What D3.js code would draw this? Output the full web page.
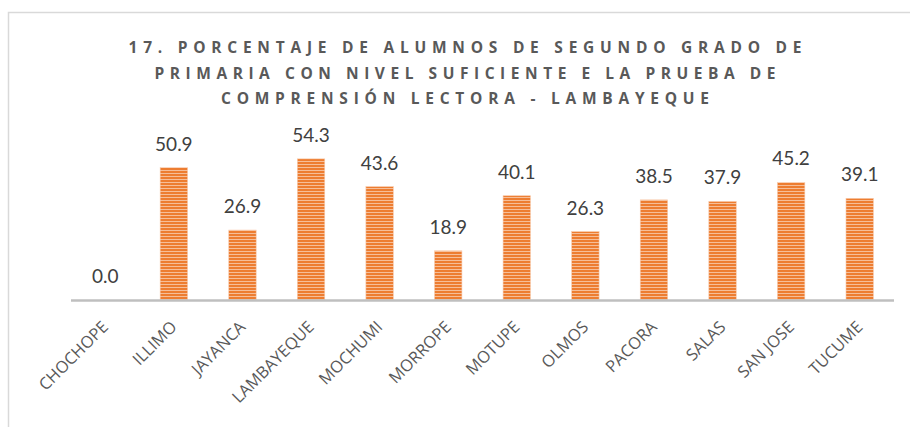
<!doctype html>
<html>
<head>
<meta charset="utf-8">
<title>Lambayeque :: Comprensión lectora</title>
<script src="https://cdnjs.cloudflare.com/ajax/libs/d3/7.8.5/d3.min.js"></script>
<style>
    body { margin: 0; background: #fff; }
    svg { display: block; }
</style>
</head>
<body>
<svg id="chart" width="910" height="427"></svg>
<script>
    /* DATA */
    var titleLines = [
        "17. PORCENTAJE DE ALUMNOS DE SEGUNDO GRADO DE",
        "PRIMARIA CON NIVEL SUFICIENTE E LA PRUEBA DE",
        "COMPRENSIÓN LECTORA - LAMBAYEQUE"
    ];
    var districts = ["CHOCHOPE", "ILLIMO", "JAYANCA", "LAMBAYEQUE", "MOCHUMI", "MORROPE",
                     "MOTUPE", "OLMOS", "PACORA", "SALAS", "SAN JOSE", "TUCUME"];
    var pct = [0.0, 50.9, 26.9, 54.3, 43.6, 18.9, 40.1, 26.3, 38.5, 37.9, 45.2, 39.1];

    var svg = d3.select("#chart");
    var defs = svg.append("defs");

    // stripe fill
    var pat = defs.append("pattern")
        .attr("id", "stripes")
        .attr("patternUnits", "userSpaceOnUse")
        .attr("width", 8).attr("height", 3);
    pat.append("rect").attr("width", 8).attr("height", 3).attr("fill", "#F6BE98");
    pat.append("rect").attr("width", 8).attr("height", 2).attr("fill", "#ED7D31");

    // chart frame (runs off the right and bottom edges)
    svg.append("rect")
        .attr("x", 8.5).attr("y", 12.5)
        .attr("width", 920).attr("height", 430)
        .attr("fill", "none")
        .attr("stroke", "#d9d9d9")
        .attr("stroke-width", 1.5);

    // title
    var titleWidths = [673, 621, 488];
    svg.append("g")
        .selectAll("text")
        .data(titleLines)
        .enter()
        .append("text")
        .attr("x", 465)
        .attr("y", (d, i) => 53 + i * 25.5)
        .attr("text-anchor", "middle")
        .attr("textLength", (d, i) => titleWidths[i])
        .attr("lengthAdjust", "spacing")
        .style("font-family", "'Open Sans', sans-serif")
        .style("font-weight", "bold")
        .style("font-size", "15.5px")
        .style("fill", "#595959")
        .text(d => d);

    var xScale = d3.scaleBand().domain(districts).range([71, 894])
        .paddingInner(0.6).paddingOuter(0.3);
    var yScale = d3.scaleLinear().domain([0, 60]).range([300, 144]);

    // bars
    svg.append("g")
        .selectAll("rect")
        .data(pct)
        .enter()
        .append("rect")
        .attr("x", (d, i) => xScale(districts[i]))
        .attr("y", d => yScale(d))
        .attr("width", xScale.bandwidth())
        .attr("height", d => yScale(0) - yScale(d))
        .attr("fill", "url(#stripes)")
        .attr("stroke", "#F8CBAD")
        .attr("stroke-width", 0.6);

    // value labels
    svg.append("g")
        .selectAll("text")
        .data(pct)
        .enter()
        .append("text")
        .attr("x", (d, i) => xScale(districts[i]) + xScale.bandwidth() / 2)
        .attr("y", d => yScale(d) - 17)
        .attr("text-anchor", "middle")
        .style("font-family", "Lato, 'Open Sans', sans-serif")
        .style("font-size", "19px")
        .style("fill", "#404040")
        .text(d => d.toFixed(1));

    // x axis line
    svg.append("line")
        .attr("x1", 71).attr("x2", 894)
        .attr("y1", 300.5).attr("y2", 300.5)
        .attr("stroke", "#bfbfbf")
        .attr("stroke-width", 2.5);

    // category labels at 45 degrees
    svg.append("g")
        .selectAll("text")
        .data(districts)
        .enter()
        .append("text")
        .attr("transform", d => "translate(" + (xScale(d) + xScale.bandwidth() / 2 + 4) + ",328) rotate(-45)")
        .attr("text-anchor", "end")
        .style("font-family", "'Open Sans', sans-serif")
        .style("font-size", "16.5px")
        .style("fill", "#595959")
        .text(d => d);
</script>
</body>
</html>
